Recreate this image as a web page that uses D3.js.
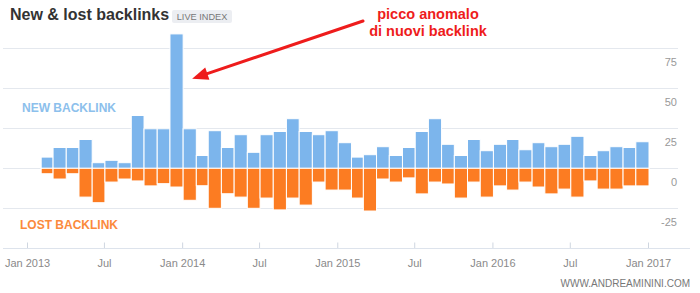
<!DOCTYPE html>
<html>
<head>
<meta charset="utf-8">
<script src="https://cdn.jsdelivr.net/npm/d3@7"></script>
<style>
	html, body { margin: 0; padding: 0; background: #fff; }
	#chart svg { display: block; font-family: "Liberation Sans", Arial, sans-serif; }
</style>
</head>
<body>
<div id="chart"></div>
<script>
(function () {

	'use strict';

	/* -------------------------- Data --------------------------------*/

	// first month with bars, one bar per month after that
	let firstMonth = '2013-02';

	let newLinks = [7, 13, 13, 18, 3.5, 5, 3.5, 33, 24.7, 24.7, 84, 24.7, 8, 23.5, 13, 21,
		10, 21, 23, 31, 23, 21, 23.5, 16, 7, 8.5, 13.5, 8, 13, 23, 31, 15,
		8, 18, 11, 15, 18, 11.6, 16, 13.5, 15, 20, 8, 11, 13.5, 13, 16.6];

	let lostLinks = [3.4, 6.7, 3.4, 18, 21.5, 8.6, 6.7, 7.9, 11, 9.6, 11.7, 20, 10.9, 25, 15.9, 18,
		25, 18.6, 26, 18.6, 23, 8.6, 13.6, 13.6, 18.6, 26.7, 6.7, 8.6, 6, 16, 8.6, 9.8,
		18.6, 8.6, 18, 11, 13.6, 8.6, 11.7, 16, 13, 18, 7.9, 13, 13, 11, 11];

	let yTicks = [-25, 0, 25, 50, 75];
	let xStart = '2013-01', xEnd = '2017-01';

	/* -------------------------- Layout --------------------------------*/

	let width = 700, height = 293;
	let parseMonth = d3.timeParse('%Y-%m');
	let months = newLinks.map(function (d, i) {
		return d3.timeMonth.offset(parseMonth(firstMonth), i);
	});

	let x = d3.scaleTime()
		.domain([parseMonth(xStart), parseMonth(xEnd)])
		.range([27, 648]);

	let y = d3.scaleLinear()
		.domain([-25, 75])
		.range([208.3, 48.3]);

	let svg = d3.select('#chart').append('svg')
		.attr('width', width)
		.attr('height', height);

	// title + badge
	svg.append('text')
		.attr('x', 10).attr('y', 20)
		.attr('font-size', 16).attr('font-weight', 'bold')
		.attr('fill', '#333')
		.text('New & lost backlinks');

	svg.append('rect')
		.attr('x', 172).attr('y', 10)
		.attr('width', 60).attr('height', 13)
		.attr('rx', 2)
		.attr('fill', '#eceef2');

	svg.append('text')
		.attr('x', 202).attr('y', 20)
		.attr('text-anchor', 'middle')
		.attr('font-size', 9.2)
		.attr('fill', '#777')
		.text('LIVE INDEX');

	// grid lines and right axis labels
	let grid = svg.append('g');

	grid.selectAll('line')
		.data(yTicks)
		.enter().append('line')
		.attr('x1', 3).attr('x2', 678)
		.attr('y1', function (d) { return Math.round(y(d)) + 0.5; })
		.attr('y2', function (d) { return Math.round(y(d)) + 0.5; })
		.attr('stroke', '#e4e8ee');

	grid.selectAll('text')
		.data(yTicks)
		.enter().append('text')
		.attr('x', 677)
		.attr('y', function (d) { return y(d) + 17.5; })
		.attr('text-anchor', 'end')
		.attr('font-size', 11)
		.attr('fill', '#999')
		.text(function (d) { return d; });

	// ****************** bars ***************************

	let barX = function (d) { return x(d); };
	let barW = function (d) { return x(d3.timeMonth.offset(d, 1)) - x(d); };

	svg.append('g').selectAll('rect')
		.data(months)
		.enter().append('rect')
		.attr('x', function (d) { return barX(d) + 1; })
		.attr('width', barW)
		.attr('y', function (d, i) { return y(newLinks[i]); })
		.attr('height', function (d, i) { return y(0) - y(newLinks[i]); })
		.attr('fill', '#7cb5ec')
		.attr('stroke', '#fff')
		.attr('stroke-width', 1);

	svg.append('g').selectAll('rect')
		.data(months)
		.enter().append('rect')
		.attr('x', function (d) { return barX(d) + 1; })
		.attr('width', barW)
		.attr('y', y(0))
		.attr('height', function (d, i) { return y(-lostLinks[i]) - y(0); })
		.attr('fill', '#fc7c22')
		.attr('stroke', '#fff')
		.attr('stroke-width', 1);

	// series labels
	svg.append('text')
		.attr('x', 22).attr('y', 112)
		.attr('font-size', 12).attr('font-weight', 'bold')
		.attr('fill', '#8cc0ec')
		.text('NEW BACKLINK');

	svg.append('text')
		.attr('x', 20).attr('y', 229)
		.attr('font-size', 12).attr('font-weight', 'bold')
		.attr('fill', '#fb8a3c')
		.text('LOST BACKLINK');

	// ****************** x axis ***************************

	let xAxis = d3.axisBottom(x)
		.ticks(d3.timeMonth.every(6))
		.tickSize(0)
		.tickFormat(function (d) {
			return d.getMonth() === 0 ? d3.timeFormat('%b %Y')(d) : d3.timeFormat('%b')(d);
		});

	let axis = svg.append('g')
		.attr('transform', 'translate(0,248.5)')
		.call(xAxis);

	axis.select('.domain').remove();
	axis.append('line')
		.attr('x1', 3).attr('x2', 690)
		.attr('stroke', '#dde3ec');

	axis.selectAll('.tick').append('line')
		.attr('y1', -6).attr('y2', 0)
		.attr('stroke', '#cfd6e0');

	axis.selectAll('.tick text')
		.attr('y', 18)
		.attr('dy', 0)
		.attr('font-size', 11)
		.attr('font-family', '"Liberation Sans", Arial, sans-serif')
		.attr('fill', '#8a8a8a');

	// ****************** annotation ***************************

	let red = '#ee1c1c';
	let spike = months[newLinks.indexOf(d3.max(newLinks))];
	let tip = { x: x(d3.timeMonth.offset(spike, 1)) + 10, y: y(56) };
	let tail = { x: 363, y: 21 };
	let ang = Math.atan2(tip.y - tail.y, tip.x - tail.x);
	let head = 16, half = 6.5;
	let base = { x: tip.x - head * Math.cos(ang), y: tip.y - head * Math.sin(ang) };

	svg.append('line')
		.attr('x1', tail.x).attr('y1', tail.y)
		.attr('x2', base.x).attr('y2', base.y)
		.attr('stroke', red)
		.attr('stroke-width', 3)
		.attr('stroke-linecap', 'round');

	svg.append('path')
		.attr('d', 'M' + tip.x + ',' + tip.y +
			'L' + (base.x + half * Math.sin(ang)) + ',' + (base.y - half * Math.cos(ang)) +
			'L' + (base.x - half * Math.sin(ang)) + ',' + (base.y + half * Math.cos(ang)) + 'Z')
		.attr('fill', red);

	svg.append('text')
		.attr('x', 428).attr('y', 18.5)
		.attr('text-anchor', 'middle')
		.attr('font-size', 14.5).attr('font-weight', 'bold')
		.attr('fill', red)
		.text('picco anomalo');

	svg.append('text')
		.attr('x', 428).attr('y', 35.5)
		.attr('text-anchor', 'middle')
		.attr('font-size', 14.5).attr('font-weight', 'bold')
		.attr('fill', red)
		.text('di nuovi backlink');

	// watermark
	svg.append('text')
		.attr('x', 690).attr('y', 287)
		.attr('text-anchor', 'end')
		.attr('font-size', 10)
		.attr('fill', '#777')
		.text('WWW.ANDREAMININI.COM');

})();
</script>
</body>
</html>
